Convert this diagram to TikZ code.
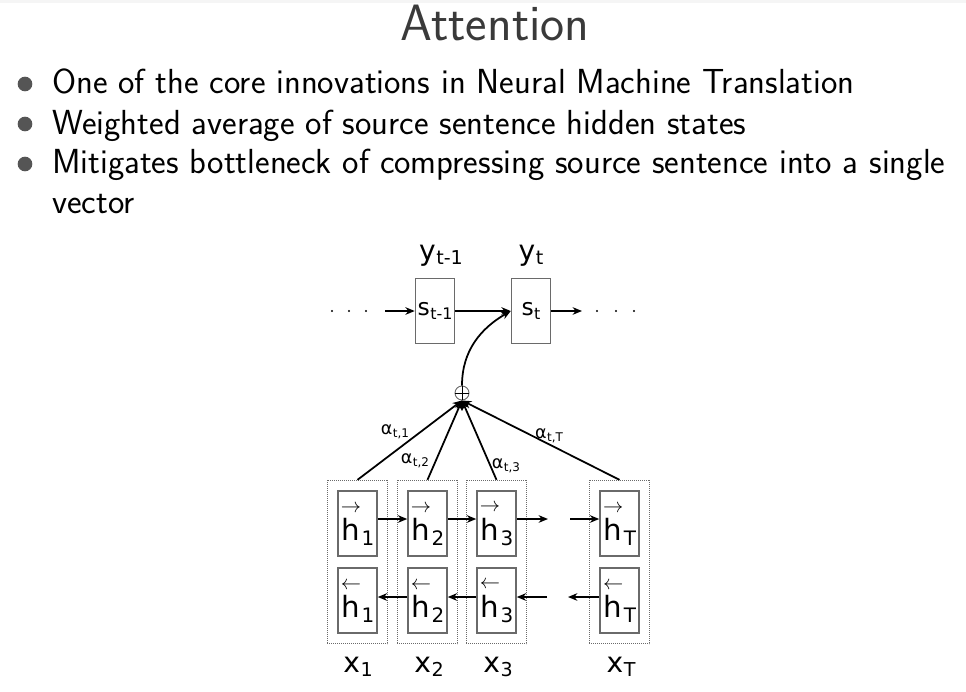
\documentclass[tikz,border=0pt]{standalone}
\usepackage{amsmath}
\usepackage{fontspec}
\newfontfamily\figfont{DejaVu Sans}
\usetikzlibrary{positioning,fit,arrows.meta}

\definecolor{titlegray}{HTML}{3A3A3A}
\definecolor{bulletgray}{HTML}{555555}
\definecolor{boxgray}{HTML}{6A6A6A}

\newcommand{\lsub}[1]{\kern0.02em\raisebox{-0.32ex}{\scalebox{0.68}{#1}}}
\newcommand{\hfwd}[1]{$\overset{\scriptstyle\rightarrow}{\mbox{h}}$\lsub{#1}}
\newcommand{\hbwd}[1]{$\overset{\scriptstyle\leftarrow}{\mbox{h}}$\lsub{#1}}

\tikzset{
  state/.style={draw=boxgray, line width=1.3pt, minimum width=1.17cm, minimum height=1.95cm,
    inner sep=0pt, font=\figfont\fontsize{20}{20}\selectfont},
  hid/.style={state, font=\figfont\fontsize{25}{25}\selectfont},
  enc/.style={draw=boxgray, densely dotted, line width=0.7pt, inner sep=0.3cm},
  wlabel/.style={font=\figfont\fontsize{15}{15}\selectfont, inner sep=1pt},
  io/.style={font=\figfont\fontsize{24}{24}\selectfont, anchor=base, inner sep=0pt},
  link/.style={->, line width=1.5pt},
  bullet/.style={font=\sffamily\fontsize{29.7}{29.7}\selectfont, anchor=base west, inner sep=0pt},
}

\begin{document}
\begin{tikzpicture}[x=0.03cm, y=-0.03cm, >={Stealth[length=8pt, width=6.5pt]}]
  \useasboundingbox (0,0) rectangle (966,692);
  \fill[gray!8] (0,0) rectangle (966,3);

  % Slide title and bullets
  \node[font=\sffamily\fontsize{43.6}{43.6}\selectfont, text=titlegray, anchor=base, inner sep=0pt] (title) at (495,40) {Attention};
  \fill[bulletgray] (25,84) circle (0.22cm);
  \fill[bulletgray] (25,124) circle (0.22cm);
  \fill[bulletgray] (25,164) circle (0.22cm);
  \node[bullet] (b1) at (52,93) {One of the core innovations in Neural Machine Translation};
  \node[bullet] (b2) at (52,134) {Weighted average of source sentence hidden states};
  \node[bullet] (b3) at (52,173) {Mitigates bottleneck of compressing source sentence into a single};
  \node[bullet] (b3b) at (52,213) {vector};

  % Decoder states
  \node[state] (sp) at (435,311) {s\lsub{t-1}};
  \node[state] (st) at (531,311) {s\lsub{t}};
  \node[io] (yp) at (441,260) {y\lsub{t-1}};
  \node[io] (yt) at (531,260) {y\lsub{t}};

  \foreach \x in {332,349,366,597,616,634}
    \fill (\x,311) circle (0.035cm);
  \coordinate (din) at (385,311);
  \coordinate (dout) at (582,311);
  \draw[link] (din) -- (sp.west);
  \draw[link] (sp.east) -- (st.west);
  \draw[link] (st.east) -- (dout);

  % Encoder states
  \node[hid] (hf1) at (357.5,523.5) {\hfwd{1}};
  \node[hid] (hf2) at (427.5,523.5) {\hfwd{2}};
  \node[hid] (hf3) at (496.5,523.5) {\hfwd{3}};
  \node[hid] (hfT) at (619.5,523.5) {\hfwd{T}};
  \node[hid] (hb1) at (357.5,600.5) {\hbwd{1}};
  \node[hid] (hb2) at (427.5,600.5) {\hbwd{2}};
  \node[hid] (hb3) at (496.5,600.5) {\hbwd{3}};
  \node[hid] (hbT) at (619.5,600.5) {\hbwd{T}};

  \node[enc, fit=(hf1)(hb1)] (e1) {};
  \node[enc, fit=(hf2)(hb2)] (e2) {};
  \node[enc, fit=(hf3)(hb3)] (e3) {};
  \node[enc, fit=(hfT)(hbT)] (eT) {};

  \node[io] (x1) at (358,672) {x\lsub{1}};
  \node[io] (x2) at (429,672) {x\lsub{2}};
  \node[io] (x3) at (498,672) {x\lsub{3}};
  \node[io] (xT) at (621,672) {x\lsub{T}};

  % Forward and backward recurrences
  \coordinate (fgapa) at (548,519);
  \coordinate (fgapb) at (570,519);
  \coordinate (bgapa) at (547,597);
  \coordinate (bgapb) at (568,597);
  \draw[link] (hf1.east |- fgapa) -- (hf2.west |- fgapa);
  \draw[link] (hf2.east |- fgapa) -- (hf3.west |- fgapa);
  \draw[link] (hf3.east |- fgapa) -- (fgapa);
  \draw[link] (fgapb) -- (hfT.west |- fgapb);
  \draw[link] (hb2.west |- bgapa) -- (hb1.east |- bgapa);
  \draw[link] (hb3.west |- bgapa) -- (hb2.east |- bgapa);
  \draw[link] (bgapa) -- (hb3.east |- bgapa);
  \draw[link] (hbT.west |- bgapb) -- (bgapb);

  % Attention weights and context
  \node[circle, draw=boxgray, line width=0.8pt, minimum size=0.42cm, inner sep=0pt] (sum) at (462,393) {};
  \draw[line width=0.8pt] (sum.north) -- (sum.south) (sum.west) -- (sum.east);
  \draw[link] (e1.north) -- (sum.south);
  \draw[link] (e2.north) -- (sum.south);
  \draw[link] (e3.north) -- (sum.south);
  \draw[link] (eT.north) -- (sum.south);
  \node[wlabel] (a1) at (395,432) {α\lsub{t,1}};
  \node[wlabel] (a2) at (415,461) {α\lsub{t,2}};
  \node[wlabel] (a3) at (506,466) {α\lsub{t,3}};
  \node[wlabel] (aT) at (549,436) {α\lsub{t,T}};
  \draw[link] (sum.north) to[out=90, in=210] (st.west);
\end{tikzpicture}
\end{document}
